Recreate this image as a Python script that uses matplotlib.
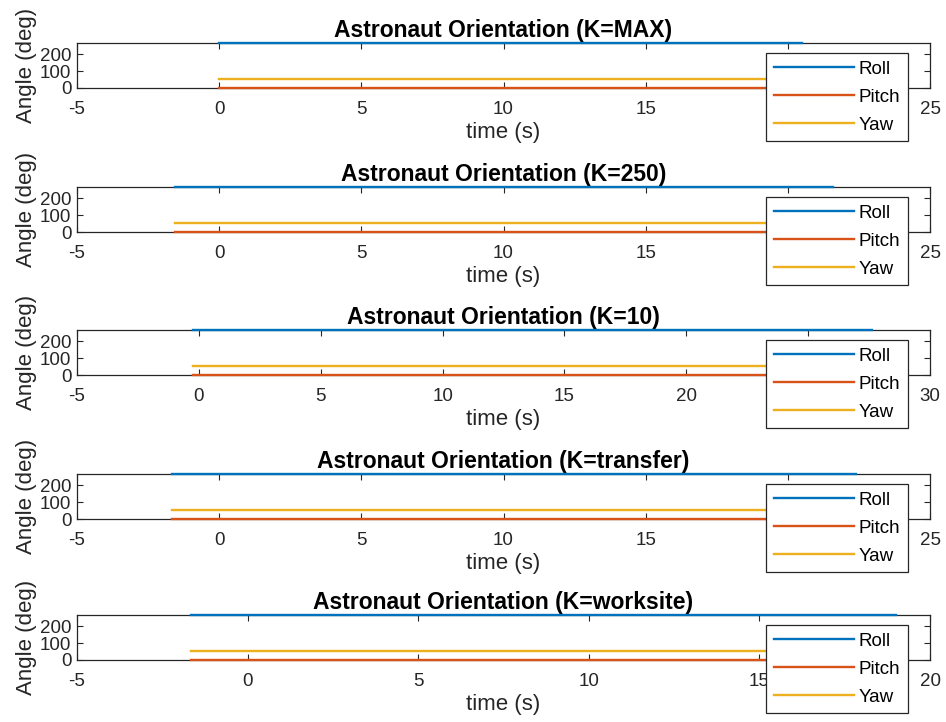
import matplotlib
matplotlib.use("Agg")
import matplotlib.pyplot as plt

plt.rcParams['font.family'] = ['Liberation Sans', 'DejaVu Sans']
plt.rcParams['axes.unicode_minus'] = False

# Orientation runs, one panel per gain setting
gain_labels = ['MAX', '250', '10', 'transfer', 'worksite']
t_start = [0.0, -1.55, -0.25, -1.65, -1.65]
t_end = [20.5, 21.6, 27.6, 22.4, 19.0]
x_max = [25, 25, 30, 25, 20]
roll_deg = [265, 265, 265, 265, 265]
pitch_deg = [0, 0, 0, 0, 0]
yaw_deg = [55, 55, 55, 55, 55]

series_names = ['Roll', 'Pitch', 'Yaw']
series_colors = ['#0072BD', '#D95319', '#EDB120']
ink = '#262626'

W, H = 946, 722
fig = plt.figure(figsize=(W / 100, H / 100), dpi=100)

ax_left, ax_right = 77, 930
ax_tops = [43, 187, 330, 474, 615]
ax_h = 45

for i, k in enumerate(gain_labels):
    top = ax_tops[i]
    ax = fig.add_axes([ax_left / W, 1 - (top + ax_h) / H,
                       (ax_right - ax_left) / W, ax_h / H])
    t = [t_start[i], t_end[i]]
    values = [roll_deg[i], pitch_deg[i], yaw_deg[i]]
    for name, v, c in zip(series_names, values, series_colors):
        ax.plot(t, [v, v], color=c, lw=1.7, label=name, zorder=5,
                clip_on=False)
    ax.set_xlim(-5, x_max[i])
    ax.set_ylim(0, roll_deg[i])
    ax.set_yticks([0, 100, 200])
    ax.set_xticks(range(-5, x_max[i] + 1, 5))
    ax.tick_params(direction='in', top=True, right=True, length=4,
                   width=0.8, colors=ink, labelsize=13.5)
    ax.tick_params(axis='x', pad=9.5)
    ax.tick_params(axis='y', pad=4)
    for s in ax.spines.values():
        s.set_color(ink)
        s.set_linewidth(0.9)
    ax.set_title(f'Astronaut Orientation (K={k})', fontsize=16.5,
                 fontweight='bold', color='black', pad=4)
    ax.set_xlabel('time (s)', fontsize=16, color=ink, labelpad=3)
    ax.set_ylabel('Angle (deg)', fontsize=16, color=ink, labelpad=2)
    leg = ax.legend(loc='upper right', bbox_to_anchor=(0.974, 0.78),
                    borderaxespad=0, fontsize=13.5, frameon=True,
                    fancybox=False, framealpha=1.0, handlelength=4.27,
                    handletextpad=0.27, labelspacing=0.58, borderpad=0.4)
    leg.get_frame().set_edgecolor(ink)
    leg.get_frame().set_linewidth(0.9)
    leg.set_zorder(10)

fig.savefig('out.png', dpi=100)
